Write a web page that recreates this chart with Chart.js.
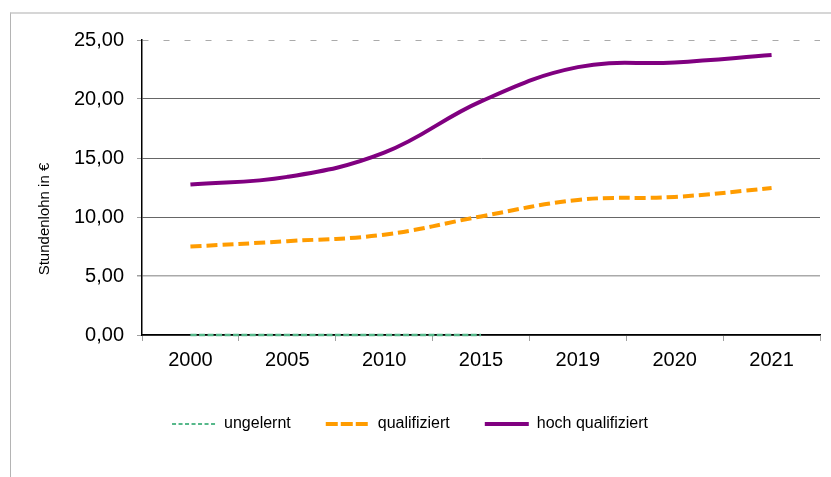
<!DOCTYPE html>
<html>
<head>
<meta charset="utf-8">
<script src="https://cdn.jsdelivr.net/npm/chart.js@4"></script>
<style>
  body { margin: 0; background: #fff; }
  #wrap { position: relative; width: 831px; height: 477px; }
  #frame { position: absolute; left: 10px; top: 12px; right: 0; bottom: 0;
           border-top: 2px solid #d6d6d6; border-left: 1px solid #b4b4b4; pointer-events: none; }
</style>
</head>
<body>
<div id="wrap">
  <canvas id="chart" width="831" height="477"></canvas>
  <div id="frame"></div>
</div>
<script>
const years = ['2000', '2005', '2010', '2015', '2019', '2020', '2021'];
const ungelernt = [0, 0, 0, 0, null, null, null];
const qualifiziert = [7.5, 7.95, 8.5, 10.05, 11.45, 11.7, 12.45];
const hochQualifiziert = [12.75, 13.4, 15.45, 19.8, 22.7, 23.1, 23.72];
const yTicks = [0, 5, 10, 15, 20, 25];

// y-Achsentitel frei positioniert wie im Original
const axisTitle = {
  id: 'axisTitle',
  afterDraw(chart) {
    const c = chart.ctx;
    c.save();
    c.translate(45, 219);
    c.rotate(-Math.PI / 2);
    c.font = '15px "Liberation Sans", Arial, sans-serif';
    c.fillStyle = '#000';
    c.textAlign = 'center';
    c.textBaseline = 'middle';
    c.fillText('Stundenlohn in €', 0, 0);
    c.restore();
  }
};

const ctx = document.getElementById('chart');
const chart = new Chart(ctx, {
  type: 'line',
  data: {
    labels: years,
    datasets: [
      {
        label: 'ungelernt',
        data: ungelernt,
        borderColor: '#56b88a',
        borderWidth: 2.5,
        borderDash: [6, 2.5],
        pointRadius: 0,
        tension: 0.4,
        clip: 8
      },
      {
        label: 'qualifiziert',
        data: qualifiziert,
        borderColor: '#ff9c00',
        borderWidth: 4,
        borderDash: [11, 5],
        pointRadius: 0,
        tension: 0.4
      },
      {
        label: 'hoch qualifiziert',
        data: hochQualifiziert,
        borderColor: '#800080',
        borderWidth: 4,
        pointRadius: 0,
        tension: 0.4
      }
    ]
  },
  options: {
    responsive: false,
    animation: false,
    layout: { padding: { top: 40, right: 11, bottom: 35, left: 0 } },
    plugins: {
      tooltip: { enabled: false },
      legend: {
        position: 'bottom',
        labels: {
          usePointStyle: true,
          pointStyle: 'line',
          pointStyleWidth: 44,
          padding: 35,
          color: '#000',
          font: { family: '"Liberation Sans", Arial, sans-serif', size: 16 },
          generateLabels(ch) {
            const items = Chart.defaults.plugins.legend.labels.generateLabels(ch);
            items.forEach(it => {
              it.pointStyle = 'line';
              if (it.datasetIndex === 0) { it.lineWidth = 2; it.lineDash = [4, 2.5]; }
              if (it.datasetIndex === 1) it.lineDash = [12, 3];
            });
            return items;
          }
        }
      }
    },
    scales: {
      x: {
        offset: true,
        afterFit(s) { s.height = 46; },
        grid: {
          offset: true,
          drawOnChartArea: false,
          tickLength: 6,
          tickColor: '#a0a0a0'
        },
        border: { color: '#000', width: 1.5 },
        ticks: {
          color: '#000',
          padding: 7,
          font: { family: '"Liberation Sans", Arial, sans-serif', size: 20 }
        }
      },
      y: {
        min: 0,
        max: 25,
        afterFit(s) { s.width = 142; },
        afterBuildTicks(s) { s.ticks = yTicks.map(v => ({ value: v })); },
        grid: {
          color: c => (c.tick && (c.tick.value === 5 || c.tick.value === 25)) ? '#aaaaaa' : '#666666',
          lineWidth: c => (c.tick && c.tick.value === 5) ? 1.5 : 1,
          tickLength: 5,
          tickColor: '#a0a0a0'
        },
        border: {
          color: '#000',
          width: 1.5,
          dash: c => (c.tick && c.tick.value === 25) ? [6, 15] : []
        },
        ticks: {
          color: '#000',
          padding: 13,
          font: { family: '"Liberation Sans", Arial, sans-serif', size: 20 },
          callback: v => v.toFixed(2).replace('.', ',')
        }
      }
    }
  },
  plugins: [axisTitle]
});
</script>
</body>
</html>
